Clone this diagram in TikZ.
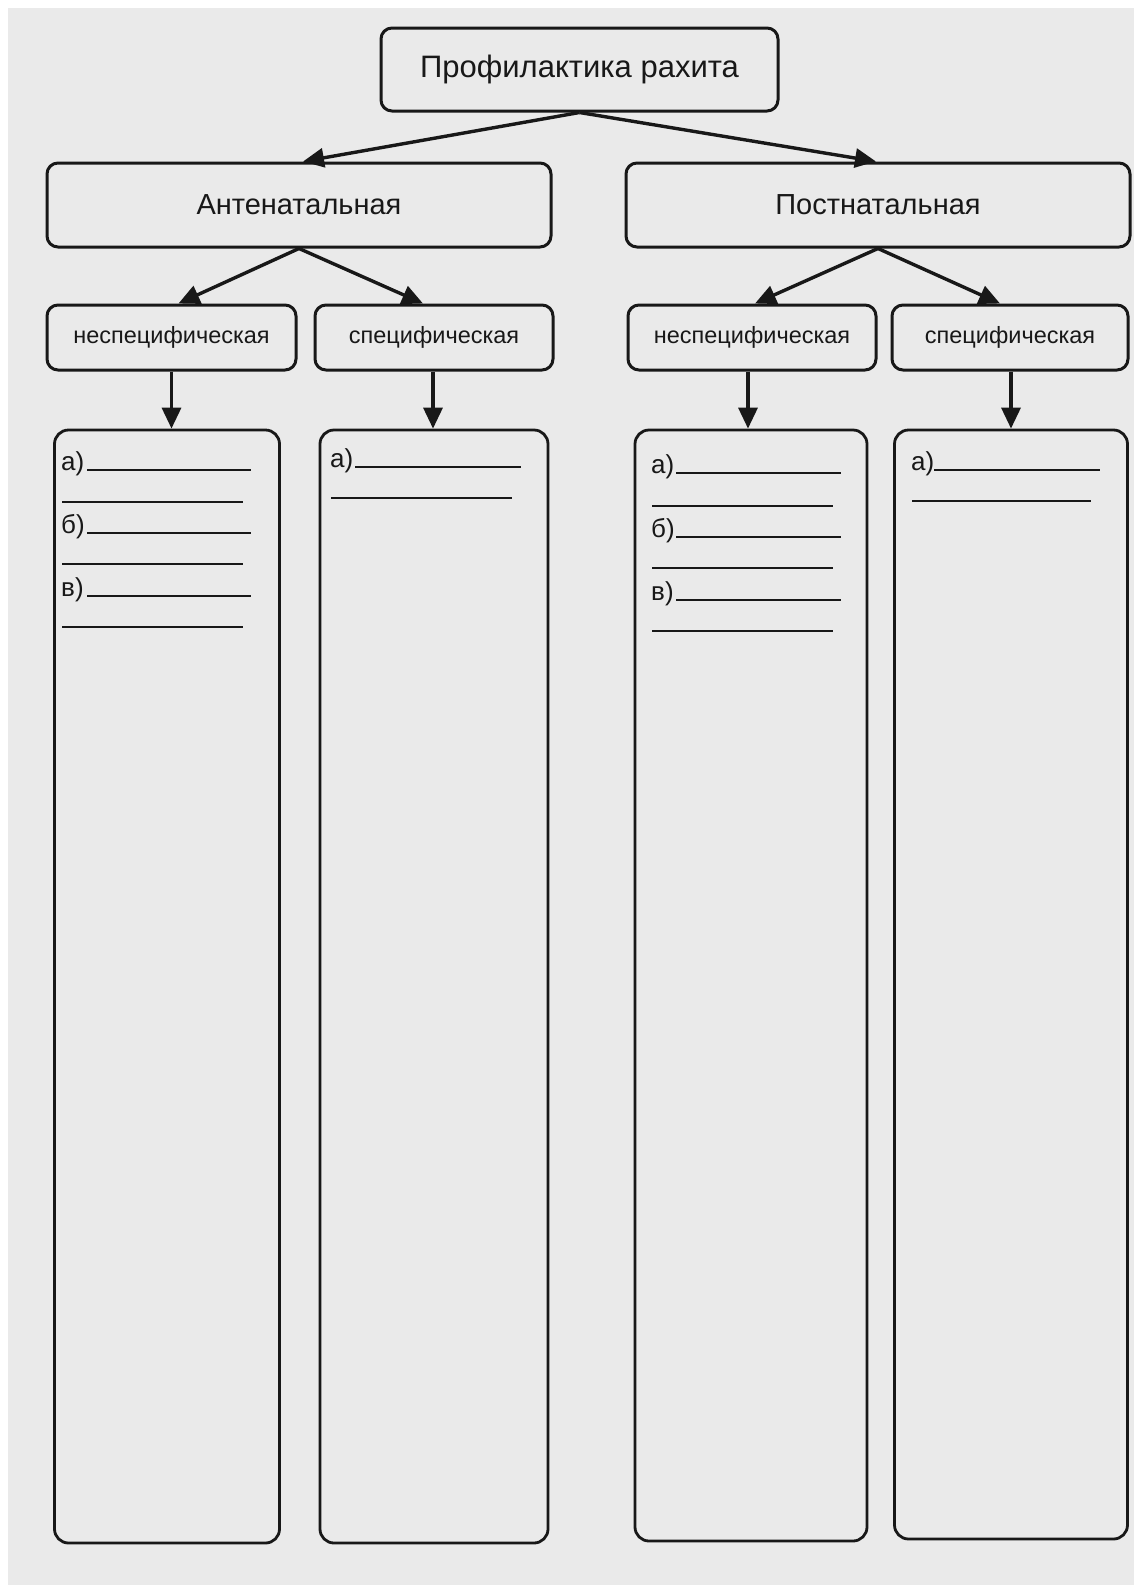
\documentclass[tikz,border=0pt]{standalone}
\usepackage{fontspec}
\setmainfont{Liberation Sans}
\usetikzlibrary{arrows.meta}
\definecolor{ink}{RGB}{24,24,24}
\definecolor{paper}{RGB}{234,234,234}
\begin{document}
\begin{tikzpicture}[x=1pt,y=1pt,
  box/.style={draw=ink, line width=3pt, rounded corners=11pt, inner sep=0pt, text=ink},
  tallbox/.style={draw=ink, line width=2.8pt, rounded corners=14pt, inner sep=0pt},
  arr/.style={draw=ink, line width=3.4pt, -{Triangle[length=21pt,width=19pt]}},
  lbl/.style={anchor=base west, inner sep=0pt, text=ink, font=\fontsize{26}{30}\selectfont},
  blank/.style={draw=ink, line width=1.8pt}
]
\useasboundingbox (0,0) rectangle (1144,-1585);
\fill[white] (0,0) rectangle (1144,-1585);
\fill[paper] (8,-8) rectangle (1134,-1585);

% level 1
\node[box, minimum width=397pt, minimum height=83pt, font=\fontsize{31}{36}\selectfont] (top) at (579.5,-69.5) {Профилактика рахита};
% level 2
\node[box, minimum width=504pt, minimum height=84pt, font=\fontsize{29}{34}\selectfont] (ante) at (299,-205) {Антенатальная};
\node[box, minimum width=504pt, minimum height=84pt, font=\fontsize{29}{34}\selectfont] (post) at (878,-205) {Постнатальная};
% level 3
\node[box, minimum width=249pt, minimum height=65pt, font=\fontsize{23.5}{28}\selectfont] (b1) at (171.5,-337.5) {неспецифическая};
\node[box, minimum width=238pt, minimum height=65pt, font=\fontsize{23.5}{28}\selectfont] (b2) at (434,-337.5) {специфическая};
\node[box, minimum width=248pt, minimum height=65pt, font=\fontsize{23.5}{28}\selectfont] (b3) at (752,-337.5) {неспецифическая};
\node[box, minimum width=236pt, minimum height=65pt, font=\fontsize{23.5}{28}\selectfont] (b4) at (1010,-337.5) {специфическая};
% tall boxes
\node[tallbox, minimum width=225pt, minimum height=1113pt] (t1) at (167,-986.5) {};
\node[tallbox, minimum width=228pt, minimum height=1113pt] (t2) at (434,-986.5) {};
\node[tallbox, minimum width=232pt, minimum height=1111pt] (t3) at (751,-985.5) {};
\node[tallbox, minimum width=233pt, minimum height=1109pt] (t4) at (1011,-984.5) {};

% connectors
\draw[arr] (top.south) -- ([xshift=4pt]ante.north);
\draw[arr] (top.south) -- ([xshift=-2pt]post.north);
\draw[arr] (ante.south) -- ([xshift=7pt]b1.north);
\draw[arr] (ante.south) -- ([xshift=-11pt]b2.north);
\draw[arr] (post.south) -- ([xshift=3pt]b3.north);
\draw[arr] (post.south) -- ([xshift=-10pt]b4.north);
\draw[arr] (b1.south) -- (b1.south |- t1.north);
\draw[arr] ([xshift=-1pt]b2.south) -- ([xshift=-1pt]b2.south |- t2.north);
\draw[arr] ([xshift=-4pt]b3.south) -- ([xshift=-4pt]b3.south |- t3.north);
\draw[arr] ([xshift=1pt]b4.south) -- ([xshift=1pt]b4.south |- t4.north);

% box 1 blanks
\node[lbl] (a1) at (61,-470) {а)};
\draw[blank] (87,-470) -- (251,-470);
\draw[blank] (62,-502) -- (243,-502);
\node[lbl] (bb1) at (61,-533) {б)};
\draw[blank] (87,-533) -- (251,-533);
\draw[blank] (62,-564) -- (243,-564);
\node[lbl] (v1) at (61,-596) {в)};
\draw[blank] (87,-596) -- (251,-596);
\draw[blank] (62,-627) -- (243,-627);

% box 2 blanks
\node[lbl] (a2) at (330,-467) {а)};
\draw[blank] (355,-467) -- (521,-467);
\draw[blank] (331,-498) -- (512,-498);

% box 3 blanks
\node[lbl] (a3) at (651,-473) {а)};
\draw[blank] (676,-473) -- (841,-473);
\draw[blank] (652,-506) -- (833,-506);
\node[lbl] (bb3) at (651,-537) {б)};
\draw[blank] (676,-537) -- (841,-537);
\draw[blank] (652,-568) -- (833,-568);
\node[lbl] (v3) at (651,-600) {в)};
\draw[blank] (676,-600) -- (841,-600);
\draw[blank] (652,-631) -- (833,-631);

% box 4 blanks
\node[lbl] (a4) at (911,-470) {а)};
\draw[blank] (934,-470) -- (1100,-470);
\draw[blank] (912,-501) -- (1091,-501);
\end{tikzpicture}
\end{document}
